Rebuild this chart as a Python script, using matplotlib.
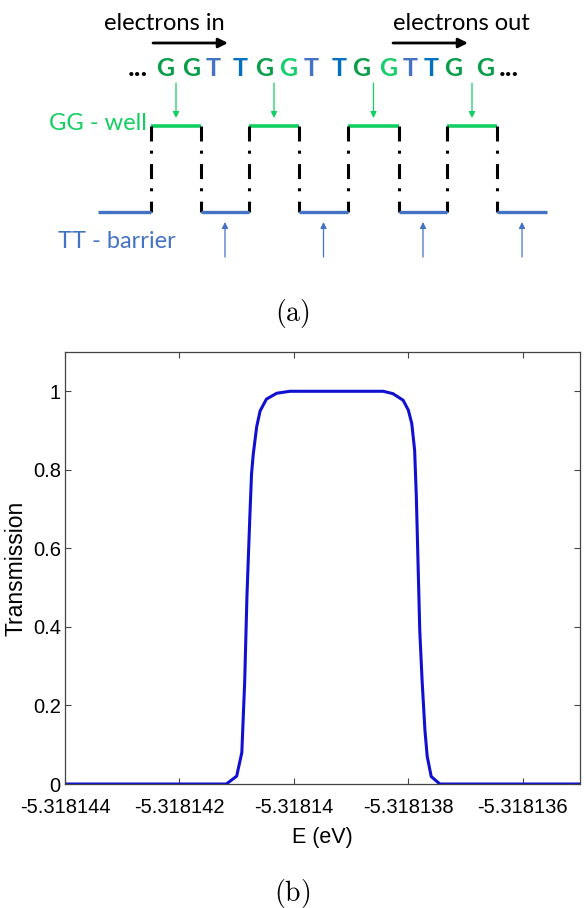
import matplotlib
matplotlib.use("Agg")
import matplotlib.pyplot as plt
from matplotlib.ticker import FixedLocator, FuncFormatter

# ---- data ----
# transmission curve
energy_ev = [-5.318144, -5.31814118, -5.31814100, -5.31814091, -5.31814086,
             -5.31814082, -5.31814077, -5.31814074, -5.31814071, -5.31814065,
             -5.31814059, -5.31814048, -5.31814030, -5.31814007, -5.31813844,
             -5.31813827, -5.31813809, -5.31813800, -5.31813794, -5.31813789,
             -5.31813786, -5.31813783, -5.31813780, -5.31813776, -5.31813771,
             -5.31813767, -5.31813760, -5.31813745, -5.318135]
transmission = [0, 0, 0.02, 0.08, 0.26, 0.48, 0.68, 0.79, 0.84, 0.91,
                0.95, 0.98, 0.995, 1.0, 1.0, 0.994, 0.977, 0.952, 0.918, 0.85,
                0.731, 0.56, 0.39, 0.265, 0.137, 0.07, 0.019, 0, 0]
x_ticks = [-5.318144, -5.318142, -5.318140, -5.318138, -5.318136]
y_ticks = [0, 0.2, 0.4, 0.6, 0.8, 1.0]

# DNA sequence of panel (a)
seq_letters = ["G", "G", "T", "T", "G", "G", "T", "T", "G", "G", "T", "T", "G", "G"]
seq_kind = ["g1", "g1", "t1", "t2", "g1", "g2", "t1", "t2", "g1", "g2", "t1", "t2", "g1", "g1"]

# ---- layout (pixels, panel a) ----
seq_x = [165, 191, 213, 240, 264, 288, 311, 339, 361, 388, 410, 431, 453, 485]
wells = [(151, 201), (249, 299), (348, 399), (447, 497)]
barriers = [(98, 151), (201, 249), (299, 348), (399, 447), (497, 547)]
y_well, y_barrier = 126, 212

kind_color = {"g1": "#0a9e4a", "g2": "#17cf6c", "t1": "#4472c4", "t2": "#0070c0"}
well_green = "#12cf62"
barrier_blue = "#4472c4"

W, H = 584, 908
fig = plt.figure(figsize=(W / 100, H / 100), dpi=100)
plt.rcParams["mathtext.fontset"] = "cm"

# ---- panel (a): schematic drawn in pixel coordinates ----
ax0 = fig.add_axes([0, 0, 1, 1])
ax0.set_xlim(0, W)
ax0.set_ylim(H, 0)
ax0.axis("off")

ui = "Lato"
ax0.text(164, 23, "electrons in", fontsize=17, family=ui, ha="center", va="center")
ax0.text(461, 23, "electrons out", fontsize=17, family=ui, ha="center", va="center")
for x0, x1 in [(153, 228), (393, 468)]:
    ax0.annotate("", xy=(x1, 43), xytext=(x0, 43),
                 arrowprops=dict(arrowstyle="-|>", lw=2, color="black", mutation_scale=14,
                                 shrinkA=0, shrinkB=0))

for ch, kind, x in zip(seq_letters, seq_kind, seq_x):
    ax0.text(x, 76, ch, fontsize=18, family=ui, weight="bold", color=kind_color[kind],
             ha="center", va="baseline")
ax0.text(138, 76, "...", fontsize=20, family=ui, weight="bold", ha="center", va="baseline")
ax0.text(509, 76, "...", fontsize=20, family=ui, weight="bold", ha="center", va="baseline")

ax0.text(98, 123, "GG - well", fontsize=17, family=ui, color=well_green, ha="center", va="center")
ax0.text(117, 241, "TT - barrier", fontsize=17, family=ui, color=barrier_blue, ha="center", va="center")

for a, b in wells:
    ax0.plot([a, b], [y_well, y_well], color=well_green, lw=2.6, solid_capstyle="butt")
    for xv in (a, b):
        ax0.plot([xv, xv], [y_well, y_barrier], color="black", lw=2.2,
                 linestyle=(0, (4.9, 3.0, 1.0, 3.4)))
    xc = (a + b) / 2
    ax0.annotate("", xy=(xc, 118), xytext=(xc, 83),
                 arrowprops=dict(arrowstyle="-|>", lw=0.9, color=well_green, mutation_scale=9,
                                 shrinkA=0, shrinkB=0))
for a, b in barriers:
    ax0.plot([a, b], [y_barrier, y_barrier], color=barrier_blue, lw=2.4, solid_capstyle="butt")
for a, b in barriers[1:]:
    xc = (a + b) / 2
    ax0.annotate("", xy=(xc, 222), xytext=(xc, 257),
                 arrowprops=dict(arrowstyle="-|>", lw=0.9, color=barrier_blue, mutation_scale=9,
                                 shrinkA=0, shrinkB=0))

ax0.text(292, 313, r"$\mathrm{(a)}$", fontsize=20, ha="center", va="center")
ax0.text(292, 893, r"$\mathrm{(b)}$", fontsize=20, ha="center", va="center")

# ---- panel (b): transmission plot ----
left, right, top, bottom = 65, 580, 352, 784
ax = fig.add_axes([left / W, 1 - bottom / H, (right - left) / W, (bottom - top) / H])
ax.plot(energy_ev, transmission, color="#1010d0", lw=2.2)
ax.set_xlim(-5.318144, -5.318135)
ax.set_ylim(0, 1.1)
ax.xaxis.set_major_locator(FixedLocator(x_ticks))
ax.yaxis.set_major_locator(FixedLocator(y_ticks))
ax.xaxis.set_major_formatter(FuncFormatter(lambda v, p: "{:.7g}".format(v)))
ax.yaxis.set_major_formatter(FuncFormatter(lambda v, p: "{:.2g}".format(v)))
ax.tick_params(direction="in", top=True, right=True, length=4, width=0.8, color="#444444",
               labelsize=14.5, labelfontfamily="Liberation Sans")
ax.tick_params(axis="x", pad=10)
ax.tick_params(axis="y", pad=3)
for sp in ax.spines.values():
    sp.set_color("#444444")
    sp.set_linewidth(0.9)
ax.set_xlabel("E (eV)", family="Liberation Sans", fontsize=15.5, labelpad=7)
ax.set_ylabel("Transmission", family="Liberation Sans", fontsize=16.5, labelpad=4)

fig.savefig("out.png", dpi=100)
